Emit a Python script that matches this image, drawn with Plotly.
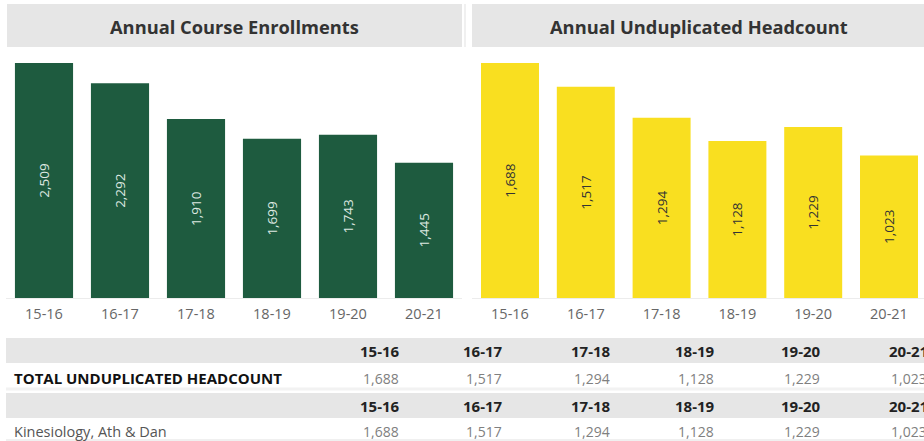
import plotly.graph_objects as go

# ---------------- data ----------------
years = ["15-16", "16-17", "17-18", "18-19", "19-20", "20-21"]
course_enrollments = [2509, 2292, 1910, 1699, 1743, 1445]
unduplicated_headcount = [1688, 1517, 1294, 1128, 1229, 1023]
kinesiology_headcount = [1688, 1517, 1294, 1128, 1229, 1023]
table_rows = ["TOTAL UNDUPLICATED HEADCOUNT", "Kinesiology, Ath & Dan"]

W, H = 924, 441
FONT = "Open Sans"
GREEN = "#1e5b3f"
YELLOW = "#f9df20"
GRAY_BG = "#e6e6e6"


def px_x(v):
    return min(max(v / W, 0), 1)


def px_y(v):
    return min(max(1 - v / H, 0), 1)


fmt = lambda v: f"{v:,}"

fig = go.Figure()

fig.add_trace(go.Bar(
    x=years, y=course_enrollments, xaxis="x", yaxis="y",
    marker=dict(color=GREEN, line=dict(width=0)), width=0.765,
    text=[fmt(v) for v in course_enrollments], textposition="inside",
    insidetextanchor="middle", textangle=-90,
    textfont=dict(family=FONT, size=13.5, color="#dfe9e2"),
    hoverinfo="x+y", showlegend=False,
))
fig.add_trace(go.Bar(
    x=years, y=unduplicated_headcount, xaxis="x2", yaxis="y2",
    marker=dict(color=YELLOW, line=dict(width=0)), width=0.765,
    text=[fmt(v) for v in unduplicated_headcount], textposition="inside",
    insidetextanchor="middle", textangle=-90,
    textfont=dict(family=FONT, size=13.5, color="#333333"),
    hoverinfo="x+y", showlegend=False,
))

plot_top, plot_bottom = 52, 298
ydom = [px_y(plot_bottom), px_y(plot_top)]
scale_h = 246 / 235

axis_common = dict(
    type="category", showgrid=False, zeroline=False, showline=True,
    linecolor="#ececec", linewidth=1, ticks="",
    tickfont=dict(family=FONT, size=14.5, color="#666666"),
    ticklabelstandoff=3, fixedrange=True,
)
yaxis_common = dict(showgrid=False, zeroline=False, showticklabels=False,
                    showline=False, fixedrange=True)

# left chart: category pitch 76px, first centre at x=44, spans x=6..462
l_left, l_right, l_pitch, l_first = 6, 462, 76, 44
l_lo = -(l_first - l_left) / l_pitch
l_hi = l_lo + (l_right - l_left) / l_pitch
# right chart continues past the window edge: category pitch ~75.8px
r_left, r_pitch, r_first = 472, 75.8, 510
r_lo = -(r_first - r_left) / r_pitch
r_hi = r_lo + (W - r_left) / r_pitch

transparent = "rgba(0,0,0,0)"
fig.update_layout(
    width=W, height=H,
    margin=dict(l=0, r=0, t=0, b=0),
    paper_bgcolor="white", plot_bgcolor="white",
    font=dict(family=FONT),
    modebar=dict(bgcolor=transparent, color=transparent, activecolor=transparent),
    xaxis=dict(domain=[px_x(l_left), px_x(l_right)], range=[l_lo, l_hi], anchor="y",
               **axis_common),
    yaxis=dict(domain=ydom, range=[0, max(course_enrollments) * scale_h], **yaxis_common),
    xaxis2=dict(domain=[px_x(r_left), 1], range=[r_lo, r_hi], anchor="y2", **axis_common),
    yaxis2=dict(domain=ydom, range=[0, max(unduplicated_headcount) * scale_h],
                anchor="x2", **yaxis_common),
)

shapes = [
    dict(type="rect", xref="paper", yref="paper", x0=px_x(7), x1=px_x(462),
         y0=px_y(47), y1=px_y(4), fillcolor=GRAY_BG, line=dict(width=0), layer="below"),
    dict(type="rect", xref="paper", yref="paper", x0=px_x(472), x1=1,
         y0=px_y(47), y1=px_y(4), fillcolor=GRAY_BG, line=dict(width=0), layer="below"),
    dict(type="line", xref="paper", yref="paper", x0=px_x(465), x1=px_x(465),
         y0=px_y(47), y1=px_y(4), line=dict(color="#f0f0f0", width=2), layer="below"),
    # table header bands
    dict(type="rect", xref="paper", yref="paper", x0=px_x(6), x1=1,
         y0=px_y(363), y1=px_y(338), fillcolor=GRAY_BG, line=dict(width=0), layer="below"),
    dict(type="rect", xref="paper", yref="paper", x0=px_x(6), x1=1,
         y0=px_y(418), y1=px_y(393), fillcolor=GRAY_BG, line=dict(width=0), layer="below"),
    dict(type="line", xref="paper", yref="paper", x0=px_x(6), x1=1,
         y0=px_y(389), y1=px_y(389), line=dict(color="#f2f2f2", width=3), layer="below"),
    dict(type="line", xref="paper", yref="paper", x0=px_x(6), x1=1,
         y0=px_y(440), y1=px_y(440), line=dict(color="#f0f0f0", width=2), layer="below"),
]

annotations = [
    dict(text="<b>Annual Course Enrollments</b>", x=px_x(234.5), y=px_y(26),
         xref="paper", yref="paper", showarrow=False, xanchor="center", yanchor="middle",
         font=dict(family=FONT, size=18.3, color="#333333")),
    dict(text="<b>Annual Unduplicated Headcount</b>", x=px_x(698.5), y=px_y(26),
         xref="paper", yref="paper", showarrow=False, xanchor="center", yanchor="middle",
         font=dict(family=FONT, size=18.3, color="#333333")),
]

col_right = [402, 505, 613, 717, 823, 930]
header_y = [351, 406]
value_y = [378, 431]
row_values = [unduplicated_headcount, kinesiology_headcount]
for r, label in enumerate(table_rows):
    annotations.append(dict(
        text=(f"<b>{label}</b>" if r == 0 else label), x=px_x(12), y=px_y(value_y[r]),
        xref="paper", yref="paper", showarrow=False, xanchor="left", yanchor="middle",
        font=dict(family=FONT, size=15 if r == 0 else 14.5,
                  color="#111111" if r == 0 else "#555555")))
    for c, yr in enumerate(years):
        annotations.append(dict(
            text=f"<b>{yr}</b>", x=col_right[c] / W, y=px_y(header_y[r]),
            xref="paper", yref="paper", showarrow=False, xanchor="right", yanchor="middle",
            font=dict(family=FONT, size=15, color="#222222")))
        annotations.append(dict(
            text=fmt(row_values[r][c]), x=(col_right[c] - 1) / W, y=px_y(value_y[r]),
            xref="paper", yref="paper", showarrow=False, xanchor="right", yanchor="middle",
            font=dict(family=FONT, size=14, color="#808080")))

fig.update_layout(shapes=shapes, annotations=annotations)

fig.write_html(
    "out.html",
    config={"displayModeBar": False},
    post_script="document.body.style.margin='0';document.body.style.overflow='hidden';",
)
